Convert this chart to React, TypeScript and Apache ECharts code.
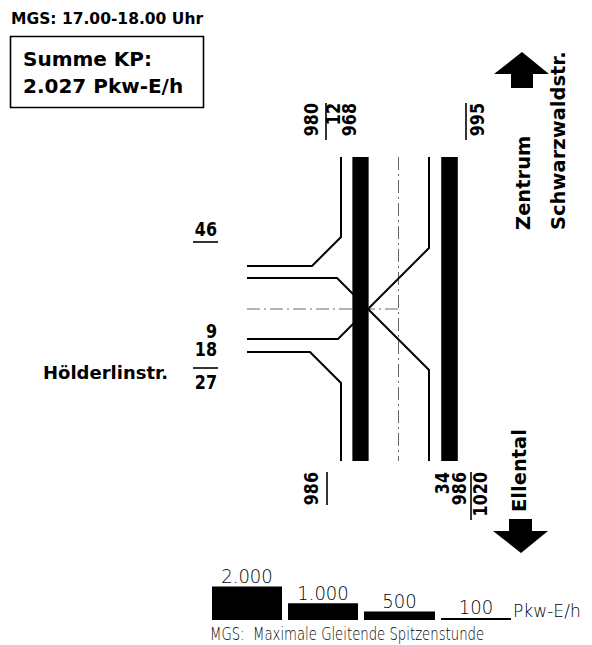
import React, { useEffect, useRef } from 'react';
import * as echarts from 'echarts';

// ---------------- DATA ----------------
const periodTitle = 'MGS: 17.00-18.00 Uhr';
const totalCaption = 'Summe KP:';
const totalVolume = 2027;
const unit = 'Pkw-E/h';

// streams: N = Zentrum/Schwarzwaldstr., S = Ellental, W = Hölderlinstr.
const streamNames = ['N→S', 'S→N', 'N→W', 'S→W', 'W→N', 'W→S'];
const streamVolumes = [968, 986, 12, 34, 9, 18];

// cross-section totals
const northIn = 980;
const northInParts = [12, 968];
const northOut = 995;
const southOut = 986;
const southInParts = [34, 986];
const southIn = 1020;
const westOut = 46;
const westInParts = [9, 18];
const westIn = 27;

const legendValues = [2000, 1000, 500, 100];
const footnote = 'MGS:  Maximale Gleitende Spitzenstunde';
const streetNorth = ['Zentrum', 'Schwarzwaldstr.'];
const streetSouth = 'Ellental';
const streetWest = 'Hölderlinstr.';

// ---------------- LAYOUT ----------------
const W = 592;
const H = 645;
const PX_PER_VEH = 16.8 / 1000;
const MIN_W = 2;
const widthOf = (v: number) => Math.max(MIN_W, v * PX_PER_VEH);

const ROUTES: number[][][] = [
  [[360.5, 157], [360.5, 461]],
  [[449.5, 461], [449.5, 157]],
  [[341, 157], [341, 237], [312, 266], [247, 266]],
  [[429, 461], [429, 370], [337, 278], [247, 278]],
  [[247, 339], [338, 339], [429, 248], [429, 157]],
  [[247, 352], [310, 352], [341, 383], [341, 461]],
];
const LEGEND_SLOTS = [[212, 282], [288, 358], [364, 435], [441, 511]];
const LEGEND_BASE = 620;

const fmt = (n: number) => String(n).replace(/\B(?=(\d{3})+(?!\d))/g, '.');

const BOLD = 'DejaVu Sans';
const LBL = 19;
const LBL_SX = 0.84;

function txt(text: string, x: number, y: number, o: any = {}) {
  return {
    type: 'text',
    x,
    y,
    rotation: o.rotation || 0,
    scaleX: o.scaleX || 1,
    silent: true,
    style: {
      text,
      fill: '#000',
      fontFamily: o.fontFamily || BOLD,
      fontWeight: o.fontWeight || 'bold',
      fontSize: o.fontSize || LBL,
      textAlign: o.align || 'left',
      textVerticalAlign: 'middle',
    },
  };
}
const UP = Math.PI / 2;
const vlbl = (text: string, x: number, y: number, align = 'right') =>
  txt(text, x, y, { rotation: UP, align, scaleX: LBL_SX });
const seg = (x1: number, y1: number, x2: number, y2: number, lw = 1.6, extra: any = {}) => ({
  type: 'line',
  silent: true,
  shape: { x1, y1, x2, y2 },
  style: { stroke: extra.stroke || '#000', lineWidth: lw, lineDash: extra.lineDash },
});

export default function App() {
  const ref = useRef<HTMLDivElement>(null);
  useEffect(() => {
    if (!ref.current) return;
    const chart = echarts.init(ref.current, undefined, { renderer: 'svg' });

    const graphics: any[] = [
      txt(periodTitle, 11, 19, { fontSize: 15.5 }),
      {
        type: 'rect',
        silent: true,
        shape: { x: 10.5, y: 36.5, width: 193, height: 71 },
        style: { fill: 'none', stroke: '#000', lineWidth: 1.6 },
      },
      txt(totalCaption, 23, 58.5, { fontSize: 20 }),
      txt(fmt(totalVolume) + ' ' + unit, 23, 85.5, { fontSize: 20 }),
      // centre lines
      seg(398.5, 157, 398.5, 461, 1, { stroke: '#666', lineDash: [13, 4, 2, 4] }),
      seg(247, 309, 398.5, 309, 1, { stroke: '#666', lineDash: [13, 4, 2, 4] }),
      // top labels
      vlbl(String(northIn), 312, 103),
      seg(326, 103, 326, 140),
      vlbl(String(northInParts[0]), 334, 103),
      vlbl(String(northInParts[1]), 350, 103),
      seg(466, 103, 466, 140),
      vlbl(String(northOut), 478, 103),
      // bottom labels
      vlbl(String(southOut), 311.5, 472),
      seg(327, 472, 327, 505),
      vlbl(String(southInParts[0]), 443, 472),
      vlbl(String(southInParts[1]), 459.5, 472),
      seg(471, 472, 471, 520),
      vlbl(String(southIn), 480.5, 472),
      // west labels
      txt(String(westOut), 217, 230, { align: 'right', scaleX: LBL_SX }),
      seg(193, 242, 218, 242),
      txt(String(westInParts[0]), 217, 332, { align: 'right', scaleX: LBL_SX }),
      txt(String(westInParts[1]), 217, 350, { align: 'right', scaleX: LBL_SX }),
      seg(193, 368, 218, 368),
      txt(String(westIn), 217, 383, { align: 'right', scaleX: LBL_SX }),
      // street names
      txt(streetWest, 43, 372, { fontSize: 18 }),
      txt(streetNorth[0], 523, 230, { rotation: UP, fontSize: 19.5 }),
      txt(streetNorth[1], 558, 230, { rotation: UP, fontSize: 19.5 }),
      txt(streetSouth, 519, 512, { rotation: UP, fontSize: 19.5 }),
      // arrows
      {
        type: 'polygon',
        silent: true,
        shape: { points: [[522, 52], [549, 74], [533, 74], [533, 88], [511, 88], [511, 74], [494, 74]] },
        style: { fill: '#000' },
      },
      {
        type: 'polygon',
        silent: true,
        shape: { points: [[509, 519], [532, 519], [532, 531], [548, 531], [521, 553], [493, 531], [509, 531]] },
        style: { fill: '#000' },
      },
      // legend texts
      txt(unit, 513, 611, { fontWeight: 200, fontSize: 18, scaleX: 0.95 }),
      txt(footnote, 210, 634.5, { fontWeight: 200, fontSize: 17, scaleX: 0.78 }),
    ];

    chart.setOption({
      animation: false,
      grid: { left: 0, right: 0, top: 0, bottom: 0 },
      xAxis: { type: 'value', min: 0, max: W, show: false },
      yAxis: { type: 'value', min: 0, max: H, inverse: true, show: false },
      series: [
        {
          type: 'custom',
          name: 'Ströme',
          coordinateSystem: 'cartesian2d',
          silent: true,
          clip: false,
          encode: { x: 0, y: 1 },
          data: streamVolumes.map((v, i) => ({ name: streamNames[i], value: [0, 0, v] })),
          renderItem: (params: any, api: any) => {
            const i = params.dataIndex;
            const v = api.value(2);
            const pts = ROUTES[i].map((p) => api.coord(p));
            return {
              type: 'polyline',
              shape: { points: pts },
              style: { fill: null, stroke: '#000', lineWidth: widthOf(v), lineJoin: 'miter' },
            };
          },
        },
        {
          type: 'custom',
          name: 'Legende',
          coordinateSystem: 'cartesian2d',
          silent: true,
          clip: false,
          encode: { x: 0, y: 1 },
          data: legendValues.map((v) => ({ value: [0, 0, v] })),
          renderItem: (params: any, api: any) => {
            const i = params.dataIndex;
            const v = api.value(2);
            const [x0, x1] = LEGEND_SLOTS[i];
            const a = api.coord([x0, LEGEND_BASE]);
            const b = api.coord([x1, LEGEND_BASE]);
            const h = widthOf(v);
            return {
              type: 'group',
              children: [
                { type: 'rect', shape: { x: a[0], y: a[1] - h, width: b[0] - a[0], height: h }, style: { fill: '#000' } },
                {
                  type: 'text',
                  x: (a[0] + b[0]) / 2,
                  y: a[1] - h - 11,
                  scaleX: 0.9,
                  style: {
                    text: fmt(v),
                    fill: '#000',
                    fontFamily: 'DejaVu Sans',
                    fontWeight: 200,
                    fontSize: 20,
                    textAlign: 'center',
                    textVerticalAlign: 'middle',
                  },
                },
              ],
            };
          },
        },
      ],
      graphic: graphics,
    });
    return () => chart.dispose();
  }, []);
  return <div ref={ref} style={{ position: 'absolute', left: 0, top: 0, width: W, height: H, background: '#fff' }} />;
}
